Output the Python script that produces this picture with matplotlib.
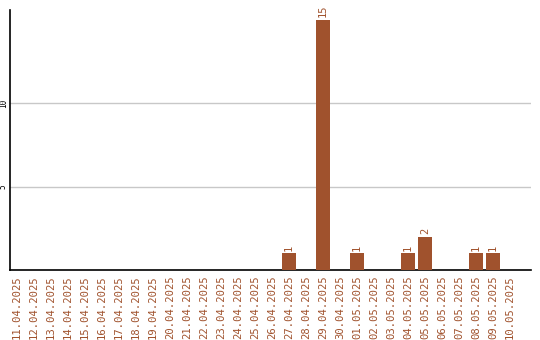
import matplotlib
matplotlib.use("Agg")
import matplotlib.pyplot as plt
import pandas as pd

dates = [d.strftime("%d.%m.%Y") for d in pd.date_range("2025-04-11", "2025-05-10")]
counts = {"27.04.2025": 1, "29.04.2025": 15, "01.05.2025": 1, "04.05.2025": 1,
          "05.05.2025": 2, "08.05.2025": 1, "09.05.2025": 1}
values = [counts.get(d, 0) for d in dates]
yticks = [5, 10]

color = "#A0522D"
fig = plt.figure(figsize=(5.4, 3.4), dpi=100)
ax = fig.add_axes([10/540, 70/340, 521/540, 260/340])
x = list(range(len(dates)))
ax.bar(x, values, width=0.82, color=color, zorder=3)
for xi, v in zip(x, values):
    if v > 0:
        ax.text(xi, v + 0.15, str(v), rotation=90, ha="center", va="bottom",
                color=color, fontsize=7.5, family="DejaVu Sans Mono")
ax.set_xlim(-0.41, 30.24)
ax.set_ylim(0, 15.57)
ax.set_yticks(yticks)
ax.set_yticklabels([str(t) for t in yticks], rotation=90, va="center",
                   fontsize=5.5, family="DejaVu Sans Mono")
ax.set_xticks(x)
ax.set_xticklabels(dates, rotation=90, color=color, fontsize=7.6,
                   family="DejaVu Sans Mono")
ax.tick_params(axis="x", length=0, pad=4)
ax.tick_params(axis="y", length=0, pad=1.5)
ax.yaxis.grid(True, color="#c8c8c8", linewidth=1, zorder=0)
for s in ["top", "right"]:
    ax.spines[s].set_visible(False)
ax.spines["left"].set_color("black")
ax.spines["bottom"].set_color("black")
ax.spines["left"].set_linewidth(1.2)
ax.spines["bottom"].set_linewidth(1.2)
fig.savefig("out.png", dpi=100)
